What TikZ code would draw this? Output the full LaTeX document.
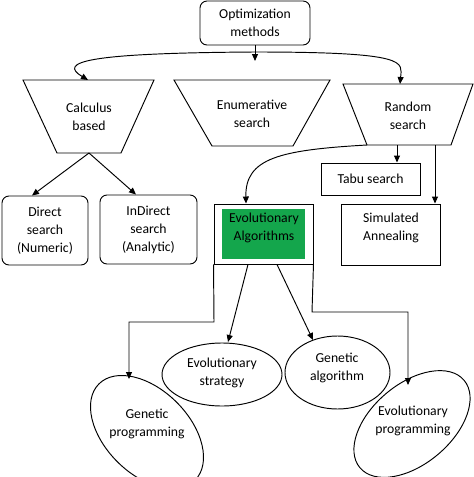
\documentclass[tikz,border=0pt]{standalone}
\usepackage{fontspec}
\setmainfont{Carlito}
\usetikzlibrary{arrows.meta,shapes.geometric}
\definecolor{eagreen}{RGB}{20,166,76}
\begin{document}
\begin{tikzpicture}[x=1pt,y=-1pt,line width=0.95pt,
  lbl/.style={align=center,font=\fontsize{13.7}{18}\selectfont,inner sep=0pt},
  arr/.style={-{Triangle[length=7pt,width=6pt]}},
  rbox/.style={draw,rounded corners=7pt,inner sep=0pt},
  sbox/.style={draw,inner sep=0pt},
  ell/.style={draw,ellipse,inner sep=0pt}]
\useasboundingbox (0,0) rectangle (474,477);
% top
\node[rbox,minimum width=110pt,minimum height=44pt,lbl] (opt) at (255,23) {Optimization\\methods};
% trapezoids
\coordinate (cTL) at (23,80); \coordinate (cTR) at (154,80);
\coordinate (cBR) at (121,153); \coordinate (cBL) at (57,153);
\draw (cTL) -- (cTR) -- (cBR) -- (cBL) -- cycle;
\node[lbl] (calc) at (89,117) {Calculus\\based};
\coordinate (eTL) at (174,80); \coordinate (eTR) at (330,80);
\coordinate (eBR) at (293,146); \coordinate (eBL) at (212,146);
\draw (eTL) -- (eTR) -- (eBR) -- (eBL) -- cycle;
\node[lbl] (enum) at (252,114) {Enumerative\\search};
\coordinate (rTL) at (343,84); \coordinate (rTR) at (473,84);
\coordinate (rBR) at (451,145); \coordinate (rBL) at (367,145);
\draw (rTL) -- (rTR) -- (rBR) -- (rBL) -- cycle;
\node[lbl] (rand) at (408,116) {Random\\search};
\coordinate (calcTop) at (88,80);
\coordinate (randTop) at (400,84);
\coordinate (calcBot) at (89,153);
\coordinate (midCurve) at (255,61);
% second row
\node[rbox,minimum width=86pt,minimum height=69pt,lbl] (direct) at (45,230.5) {Direct\\search\\(Numeric)};
\node[rbox,minimum width=97pt,minimum height=69pt,lbl] (indirect) at (148.5,229.5) {InDirect\\search\\(Analytic)};
\node[sbox,minimum width=99pt,minimum height=32pt,lbl] (tabu) at (370.5,179) {Tabu search};
\node[sbox,minimum width=99pt,minimum height=61pt] (sa) at (390.5,234.5) {};
\node[lbl] (satext) at (391,228) {Simulated\\Annealing};
\node[sbox,minimum width=99pt,minimum height=60pt] (ea) at (263.5,234) {};
\node[fill=eagreen,minimum width=83pt,minimum height=50pt,inner sep=0pt] (eag) at (263.5,234) {};
\node[lbl] (eatext) at (264,228) {Evolutionary\\Algorithms};
% ellipses
\node[ell,minimum width=120pt,minimum height=63pt] (es) at (222,374.5) {};
\node[lbl] (estext) at (222,373) {Evolutionary\\strategy};
\node[ell,minimum width=105pt,minimum height=73pt] (ga) at (337.5,372.5) {};
\node[lbl] (gatext) at (337,368) {Genetic\\algorithm};
\node[ell,minimum width=136pt,minimum height=84pt,rotate=-45] (gp) at (147,432) {};
\node[lbl] (gptext) at (147,424) {Genetic\\programming};
\node[ell,minimum width=136pt,minimum height=80pt,rotate=40] (ep) at (412,424) {};
\node[lbl] (eptext) at (413,421) {Evolutionary\\programming};
\coordinate (gpTop) at (129,379);
\coordinate (epTop) at (408,385);
% connectors
\draw[arr] (opt.south) -- (midCurve);
\draw[{Triangle[length=7pt,width=6pt]}-{Triangle[length=7pt,width=6pt]}] (calcTop) .. controls (58,62) and (85,53) .. (255,52) .. controls (410,52) and (402,62) .. (randTop);
\draw[arr] (calcBot) -- (direct.north -| 32,0);
\draw[arr] (calcBot) -- (indirect.north -| 136,0);
\draw[arr] (397,145) -- (tabu.north -| 397,0);
\draw[arr] (435,145) -- (sa.north -| 435,0);
\draw[arr] (rBL) .. controls (280,150) and (245,158) .. (ea.north -| 246,0);
\draw[arr] (ea.south west) -- (214,322) -- (129,322) -- (gpTop);
\draw[arr] (ea.south east) -- (312,312) -- (408,312) -- (epTop);
\draw[arr] (ea.south -| 248,0) -- (228,342);
\draw[arr] (ea.south -| 277,0) -- (313,340);
\end{tikzpicture}
\end{document}
